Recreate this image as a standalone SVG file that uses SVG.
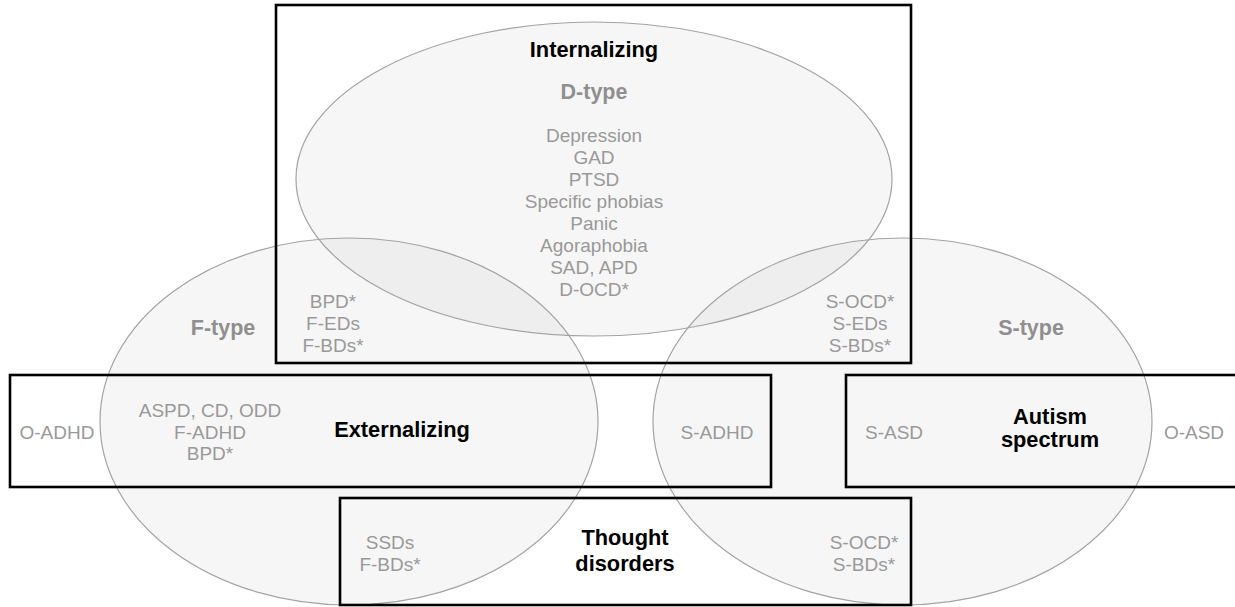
<svg xmlns="http://www.w3.org/2000/svg" width="1235" height="607" viewBox="0 0 1235 607">
<style>
  .ell { fill: #aaaaaa; fill-opacity: 0.1; stroke: #a3a3a3; stroke-width: 1.2; }
  .box { fill: none; stroke: #000; stroke-width: 2.6; }
  text { font-family: "Liberation Sans", Arial, sans-serif; text-anchor: middle; }
  .item { font-size: 19px; fill: #999999; }
  .type { font-size: 21.5px; font-weight: bold; fill: #8f8f8f; }
  .title { font-size: 21.8px; font-weight: bold; fill: #000; }
</style>
<rect width="1235" height="607" fill="#fff"/>
<g id="d-type">
  <ellipse class="ell" cx="594" cy="179" rx="298" ry="157"/>
  <text class="type" x="594" y="99">D-type</text>
  <text class="item" x="594" y="142">Depression</text>
  <text class="item" x="594" y="164">GAD</text>
  <text class="item" x="594" y="186">PTSD</text>
  <text class="item" x="594" y="208">Specific phobias</text>
  <text class="item" x="594" y="230">Panic</text>
  <text class="item" x="594" y="252">Agoraphobia</text>
  <text class="item" x="594" y="274">SAD, APD</text>
  <text class="item" x="594" y="296">D-OCD*</text>
</g>
<g id="f-type">
  <ellipse class="ell" cx="349" cy="421.5" rx="249" ry="183.5"/>
  <text class="type" x="223" y="335">F-type</text>
</g>
<g id="s-type">
  <ellipse class="ell" cx="902.5" cy="421.5" rx="249.5" ry="183.5"/>
  <text class="type" x="1031" y="335">S-type</text>
</g>
<g id="internalizing">
  <rect class="box" x="276" y="5" width="635" height="358"/>
  <text class="title" x="594" y="57">Internalizing</text>
  <text class="item" x="333" y="308">BPD*</text>
  <text class="item" x="333" y="330">F-EDs</text>
  <text class="item" x="333" y="352">F-BDs*</text>
  <text class="item" x="860" y="308">S-OCD*</text>
  <text class="item" x="860" y="330">S-EDs</text>
  <text class="item" x="860" y="352">S-BDs*</text>
</g>
<g id="externalizing">
  <rect class="box" x="10" y="375" width="761" height="112"/>
  <text class="title" x="402" y="437">Externalizing</text>
  <text class="item" x="57" y="439">O-ADHD</text>
  <text class="item" x="210" y="417">ASPD, CD, ODD</text>
  <text class="item" x="210" y="438.5">F-ADHD</text>
  <text class="item" x="210" y="460">BPD*</text>
  <text class="item" x="717" y="439">S-ADHD</text>
</g>
<g id="autism-spectrum">
  <rect class="box" x="846" y="375" width="420" height="112"/>
  <text class="title" x="1050" y="424">Autism</text>
  <text class="title" x="1050" y="447">spectrum</text>
  <text class="item" x="894" y="439">S-ASD</text>
  <text class="item" x="1194" y="439">O-ASD</text>
</g>
<g id="thought-disorders">
  <rect class="box" x="340" y="498" width="571" height="107"/>
  <text class="title" x="625" y="545">Thought</text>
  <text class="title" x="625" y="571">disorders</text>
  <text class="item" x="390" y="549">SSDs</text>
  <text class="item" x="390" y="571">F-BDs*</text>
  <text class="item" x="864" y="549">S-OCD*</text>
  <text class="item" x="864" y="571">S-BDs*</text>
</g>
</svg>
